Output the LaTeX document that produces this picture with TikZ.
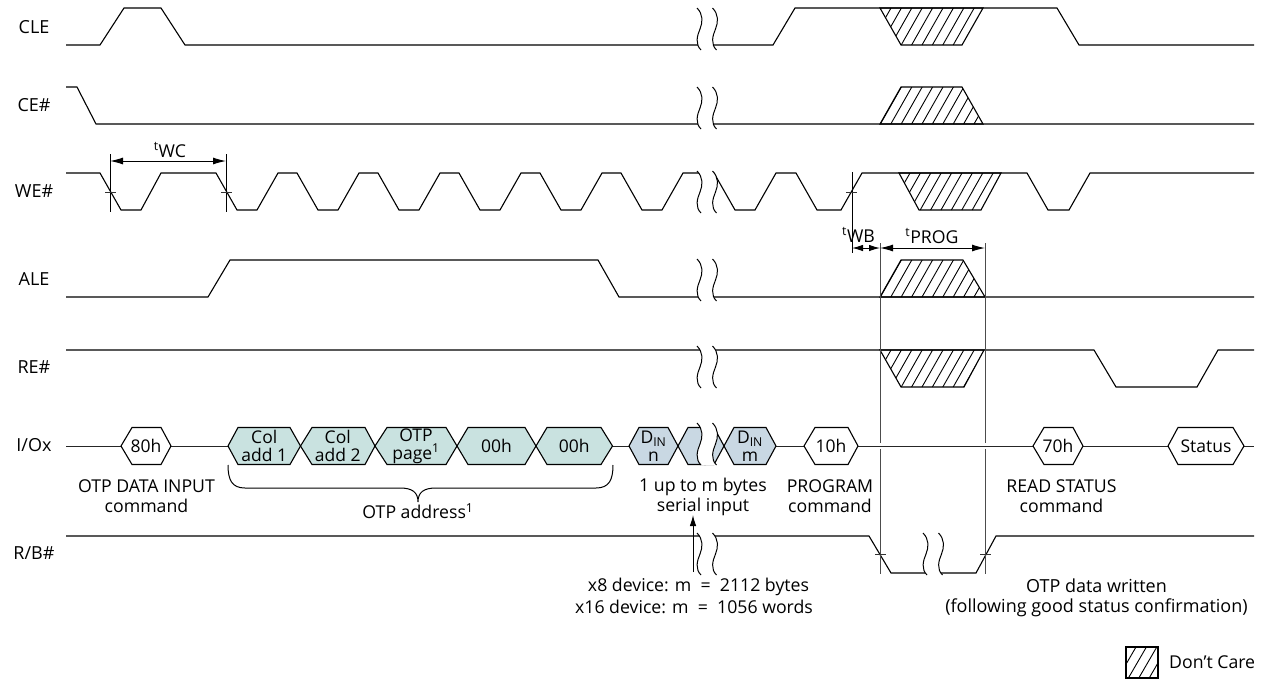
\documentclass[tikz,border=0pt]{standalone}
\usepackage{fontspec}
\setmainfont{Open Sans}
\usetikzlibrary{arrows.meta}
\definecolor{teal1}{HTML}{C9E2E0}
\definecolor{blue1}{HTML}{C9D8E3}
\tikzset{
 sig/.style={line width=1.1pt,line join=miter},
 lab/.style={font=\fontsize{18}{20}\selectfont,inner sep=0pt,align=center},
 txt/.style={font=\fontsize{17.7}{20}\selectfont,inner sep=0pt,align=center},
 hextxt/.style={font=\fontsize{17.5}{18}\selectfont,inner sep=0pt,align=center},
 vline/.style={line width=1pt,black!70},
 vlineb/.style={line width=.9pt,black},
 dim/.style={line width=1pt,{Latex[length=13pt,width=7pt]}-{Latex[length=13pt,width=7pt]}},
 dimshort/.style={line width=1pt,{Latex[length=11pt,width=6.5pt]}-{Latex[length=11pt,width=6.5pt]}},
 hatchl/.style={line width=0.9pt},
 wave/.style={line width=1pt},
}
\newcommand{\hatchregion}[4]{%
 \begin{scope}
 \clip #4;
 \foreach \k in {0,...,16}{
  \draw[hatchl] ({#1+\k*10.4},#3) -- ({#1+\k*10.4+21},#2);
 }
 \end{scope}
 \draw[sig] #4;
}
\newcommand{\breakmark}[2]{% x, top y
 \fill[white] (#1,#2) .. controls (#1+6,#2+6) and (#1+6,#2+14) .. (#1+3,#2+21) .. controls (#1,#2+28) and (#1-2,#2+36) .. (#1+4,#2+42) -- (#1+19.5,#2+42) .. controls (#1+13.5,#2+36) and (#1+15.5,#2+28) .. (#1+18.5,#2+21) .. controls (#1+21.5,#2+14) and (#1+21.5,#2+6) .. (#1+15.5,#2) -- cycle;
 \draw[wave] (#1,#2) .. controls (#1+6,#2+6) and (#1+6,#2+14) .. (#1+3,#2+21) .. controls (#1,#2+28) and (#1-2,#2+36) .. (#1+4,#2+42);
 \draw[wave] (#1+15.5,#2) .. controls (#1+21.5,#2+6) and (#1+21.5,#2+14) .. (#1+18.5,#2+21) .. controls (#1+15.5,#2+28) and (#1+13.5,#2+36) .. (#1+19.5,#2+42);
}
\newcommand{\hexa}[7]{%
 \draw[sig,fill=#6] (#2,446) -- (#3,427.5) -- (#4,427.5) -- (#5,446) -- (#4,464.5) -- (#3,464.5) -- cycle;
 \node[hextxt] (#1) at ({(#2+#5)/2},446) {#7};
}
\begin{document}
\begin{tikzpicture}[x=1pt,y=-1pt]
\useasboundingbox (0,0) rectangle (1262,681);
\fill[white] (0,0) rectangle (1262,681);

\node[lab] (lcle) at (34,27) {CLE};
\node[lab] (lce) at (34,105) {CE\#};
\node[lab] (lwe) at (34,191) {WE\#};
\node[lab] (lale) at (34,279) {ALE};
\node[lab] (lre) at (34,367) {RE\#};
\node[lab] (lio) at (34,445) {I/Ox};
\node[lab] (lrb) at (34,553) {R/B\#};

\draw[sig] (66,45) -- (100,45) -- (124,8) -- (161,8) -- (185,45) -- (773,45) -- (795,8) -- (1057,8) -- (1079,45) -- (1254,45);
\draw[sig] (66,87) -- (77,87) -- (96,124) -- (1254,124);
\draw[sig] (66,173) -- (100,173) -- (121,210) -- (141,210) -- (161,173) -- (216,173) -- (237,210) -- (257,210) -- (278,173) -- (297,173) -- (318,210) -- (338,210) -- (359,173) -- (378,173) -- (399,210) -- (419,210) -- (440,173) -- (459,173) -- (480,210) -- (500,210) -- (521,173) -- (540,173) -- (561,210) -- (581,210) -- (602,173) -- (621,173) -- (642,210) -- (662,210) -- (683,173) -- (714,173) -- (735,210) -- (755,210) -- (776,173) -- (796,173) -- (817,210) -- (841,210) -- (862,173) -- (1027,173) -- (1048,210) -- (1069,210) -- (1090,173) -- (1254,173);
\draw[sig] (66,297) -- (208,297) -- (230,260) -- (598,260) -- (619,297) -- (1254,297);
\draw[sig] (66,350) -- (1094,350) -- (1116,387) -- (1197,387) -- (1218,350) -- (1254,350);
\draw[sig] (66,536) -- (869,536) -- (891,573) -- (976,573) -- (996,536) -- (1254,536);

\hatchregion{870}{8}{45}{(880,8) -- (901,45) -- (962,45) -- (983,8) -- cycle}
\hatchregion{870}{87}{124}{(880,124) -- (901,87) -- (962,87) -- (983,124) -- cycle}
\hatchregion{889}{173}{210}{(899,173) -- (919,210) -- (981,210) -- (1001,173) -- cycle}
\hatchregion{870}{260}{297}{(880,297) -- (901,260) -- (963,260) -- (985,297) -- cycle}
\hatchregion{870}{350}{387}{(880,350) -- (901,387) -- (964,387) -- (984,350) -- cycle}

\draw[line width=1pt,black!85] (66,446) -- (1254,446);
\coordinate (vt1) at (880,243); \coordinate (vb1) at (880,574);
\coordinate (vt2) at (985,243); \coordinate (vb2) at (985,574);
\draw[vline] (vt1) -- (880,443) (880,449) -- (vb1);
\draw[vline] (vt2) -- (985,443) (985,449) -- (vb2);

\hexa{h80}{121}{132}{161}{171}{white}{80h}
\hexa{c1}{228}{238}{290}{300.5}{teal1}{Col\\add 1}
\hexa{c2}{300.5}{312}{365}{375}{teal1}{Col\\add 2}
\hexa{c3}{375}{387}{446}{457}{teal1}{OTP\\page\textsuperscript{1}}
\hexa{c4}{457}{468}{525}{536}{teal1}{00h}
\hexa{c5}{536}{547}{601}{612.5}{teal1}{00h}
\hexa{dn}{629}{639}{668}{678}{blue1}{D\textsubscript{IN}\\n}
\draw[sig,fill=blue1] (678,446) -- (688,427.5) -- (705,427.5) -- (705,464.5) -- (688,464.5) -- cycle;
\draw[sig,fill=blue1] (724,446) -- (714,464.5) -- (705,464.5) -- (705,427.5) -- (714,427.5) -- cycle;
\hexa{dm}{724}{734}{766}{776}{blue1}{D\textsubscript{IN}\\m}
\hexa{h10}{804}{815}{848}{858}{white}{10h}
\hexa{h70}{1033}{1044}{1073}{1083}{white}{70h}
\hexa{hst}{1168}{1178}{1233}{1244}{white}{Status}

\breakmark{697}{8}
\breakmark{697}{87}
\breakmark{697}{171}
\breakmark{697}{259}
\breakmark{697}{346}
\breakmark{697}{423}
\breakmark{697}{533}
\breakmark{923}{533}

\coordinate (a1) at (110,154); \coordinate (a2) at (226,154);
\coordinate (a1b) at (110,212); \coordinate (a2b) at (226,212);
\draw[vlineb] (a1) -- (a1b);
\draw[vlineb] (a2) -- (a2b);
\draw[dim] (110,161) -- (226,161);
\draw[line width=.8pt,black!80] (105,192) -- (116,192) (221,192) -- (232,192);
\node[txt] (twc) at (170,150) {\textsuperscript{t}WC};
\draw[vlineb] (852,172) -- (852,253);
\draw[line width=.8pt,black!80] (846,192) -- (857,192);
\draw[dimshort] (852,248) -- (880,248);
\draw[dim] (880,248) -- (985,248);
\node[txt] (twb) at (858.5,235) {\textsuperscript{t}WB};
\node[txt] (tprog) at (932,236) {\textsuperscript{t}PROG};
\draw[line width=.8pt,black!80] (875,554) -- (886,554) (980,554) -- (991,554);

\draw[line width=1pt] (228,465) .. controls (228,480) and (232,488) .. (245,488) -- (400,488) .. controls (412,488) and (418,492) .. (418,502) .. controls (418,492) and (424,488) .. (436,488) -- (596,488) .. controls (609,488) and (613,480) .. (613,465);

\coordinate (arr0) at (693,572); \coordinate (arr1) at (693,515);
\draw[line width=1pt,-{Latex[length=11pt,width=6.5pt]}] (arr0) -- (arr1);

\node[txt] (t1) at (146.5,496.5) {OTP DATA INPUT\\command};
\node[txt] (t2) at (418,511) {OTP address\textsuperscript{1}};
\node[txt] (t3) at (703,496.5) {1 up to m bytes\\serial input};
\node[txt] (t4) at (830,496.5) {PROGRAM\\command};
\node[txt] (t5) at (1061.5,496.5) {READ STATUS\\command};
\node[txt] (t6a) at (698.5,587) {x8 device: m~~=~~2112 bytes};
\node[txt] (t6b) at (694,607) {x16 device: m~~=~~1056 words};
\node[txt,font=\fontsize{18}{20}\selectfont] (t7) at (1096.5,597.5) {OTP data written\\(following good status confirmation)};

\begin{scope}
\clip (1126,647) rectangle (1158,678);
\foreach \k in {0,...,5}{\draw[hatchl] ({1118+\k*10.4},678) -- ({1118+\k*10.4+18},647);}
\end{scope}
\draw[sig] (1126,647) rectangle (1158,678);
\node[txt,anchor=west] (dc) at (1169,662) {Don’t Care};
\end{tikzpicture}
\end{document}
